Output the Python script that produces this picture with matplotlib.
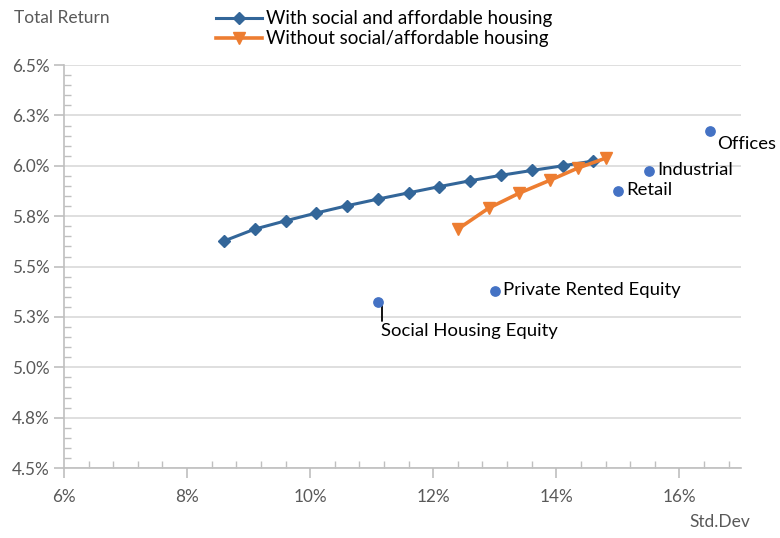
import matplotlib.pyplot as plt
from matplotlib.ticker import MultipleLocator

plt.rcParams['font.family'] = ['Lato', 'DejaVu Sans']

# efficient frontier with social/affordable housing
with_sd = [8.6, 9.1, 9.6, 10.1, 10.6, 11.1, 11.6, 12.1, 12.6, 13.1, 13.6, 14.1, 14.6]
with_ret = [5.627, 5.686, 5.727, 5.766, 5.802, 5.835, 5.866, 5.897, 5.926,
            5.953, 5.977, 6.000, 6.024]

# frontier without
without_sd = [12.4, 12.9, 13.4, 13.9, 14.35, 14.8]
without_ret = [5.686, 5.790, 5.865, 5.929, 5.989, 6.038]

# individual assets
assets = ["Offices", "Industrial", "Retail", "Private Rented Equity", "Social Housing Equity"]
asset_sd = [16.5, 15.5, 15.0, 13.0, 11.1]
asset_ret = [6.172, 5.974, 5.875, 5.378, 5.324]

y_ticks = [4.5, 4.75, 5.0, 5.25, 5.5, 5.75, 6.0, 6.25, 6.5]
y_labels = ["4.5%", "4.8%", "5.0%", "5.3%", "5.5%", "5.8%", "6.0%", "6.3%", "6.5%"]
x_ticks = [6, 8, 10, 12, 14, 16]
x_labels = ["6%", "8%", "10%", "12%", "14%", "16%"]

blue = "#336699"
orange = "#ED7D31"
pt_blue = "#4472C4"
grey = "#595959"

fig = plt.figure(figsize=(7.8, 5.38), dpi=100)
ax = fig.add_axes([0.082, 0.130, 0.868, 0.749])

ax.plot(with_sd, with_ret, color=blue, lw=2.2, marker="D", ms=6.5,
        label="With social and affordable housing", zorder=3)
ax.plot(without_sd, without_ret, color=orange, lw=2.6, marker="v", ms=9,
        label="Without social/affordable housing", zorder=3)
ax.scatter(asset_sd, asset_ret, color=pt_blue, s=45, zorder=4)

# labels for the assets
fs = 13.3
ax.annotate(assets[0], (asset_sd[0], asset_ret[0]), xytext=(5, -9),
            textcoords="offset points", fontsize=fs, va="center")
for i in [1, 2, 3]:
    ax.annotate(assets[i], (asset_sd[i], asset_ret[i]), xytext=(6, 1),
                textcoords="offset points", fontsize=fs, va="center")
# leader line + label below social housing point
ax.annotate("", (asset_sd[4], asset_ret[4]), xytext=(3, -14),
            textcoords="offset points",
            arrowprops=dict(arrowstyle="-", color="black", lw=1.3,
                            shrinkA=0, shrinkB=0,
                            connectionstyle="angle,angleA=90,angleB=0,rad=0"))
ax.annotate(assets[4], (asset_sd[4], asset_ret[4]), xytext=(2, -21),
            textcoords="offset points", fontsize=fs, va="center", ha="left")

ax.set_xlim(6, 17)
ax.set_ylim(4.5, 6.5)
ax.set_xticks(x_ticks)
ax.set_xticklabels(x_labels)
ax.set_yticks(y_ticks)
ax.set_yticklabels(y_labels)
ax.xaxis.set_minor_locator(MultipleLocator(0.4))
ax.yaxis.set_minor_locator(MultipleLocator(0.05))

ax.grid(axis="y", color="#D9D9D9", lw=1.2)
ax.set_axisbelow(True)
for s in ["top", "right"]:
    ax.spines[s].set_visible(False)
for s in ["left", "bottom"]:
    ax.spines[s].set_color("#BFBFBF")
    ax.spines[s].set_linewidth(1.2)
ax.tick_params(which="major", length=7, color="#BFBFBF", width=1.2,
               labelsize=12.3, labelcolor=grey)
ax.tick_params(which="minor", length=5, color="#BFBFBF", width=1)
ax.tick_params(axis="x", which="minor", direction="in")
ax.tick_params(axis="x", which="major", direction="out", pad=8)
ax.tick_params(axis="y", which="major", direction="out")
ax.tick_params(axis="y", which="minor", direction="in")

fig.text(0.018, 0.966, "Total Return", fontsize=12.5, color=grey, va="center")
fig.text(0.962, 0.03, "Std.Dev", fontsize=12.5, color=grey, va="center", ha="right")

fig.legend(loc="upper left", bbox_to_anchor=(0.265, 0.998), frameon=False,
           fontsize=13.5, handlelength=2.45, labelspacing=0.15, borderpad=0,
           handletextpad=0.2)

fig.savefig("out.png", dpi=100)
